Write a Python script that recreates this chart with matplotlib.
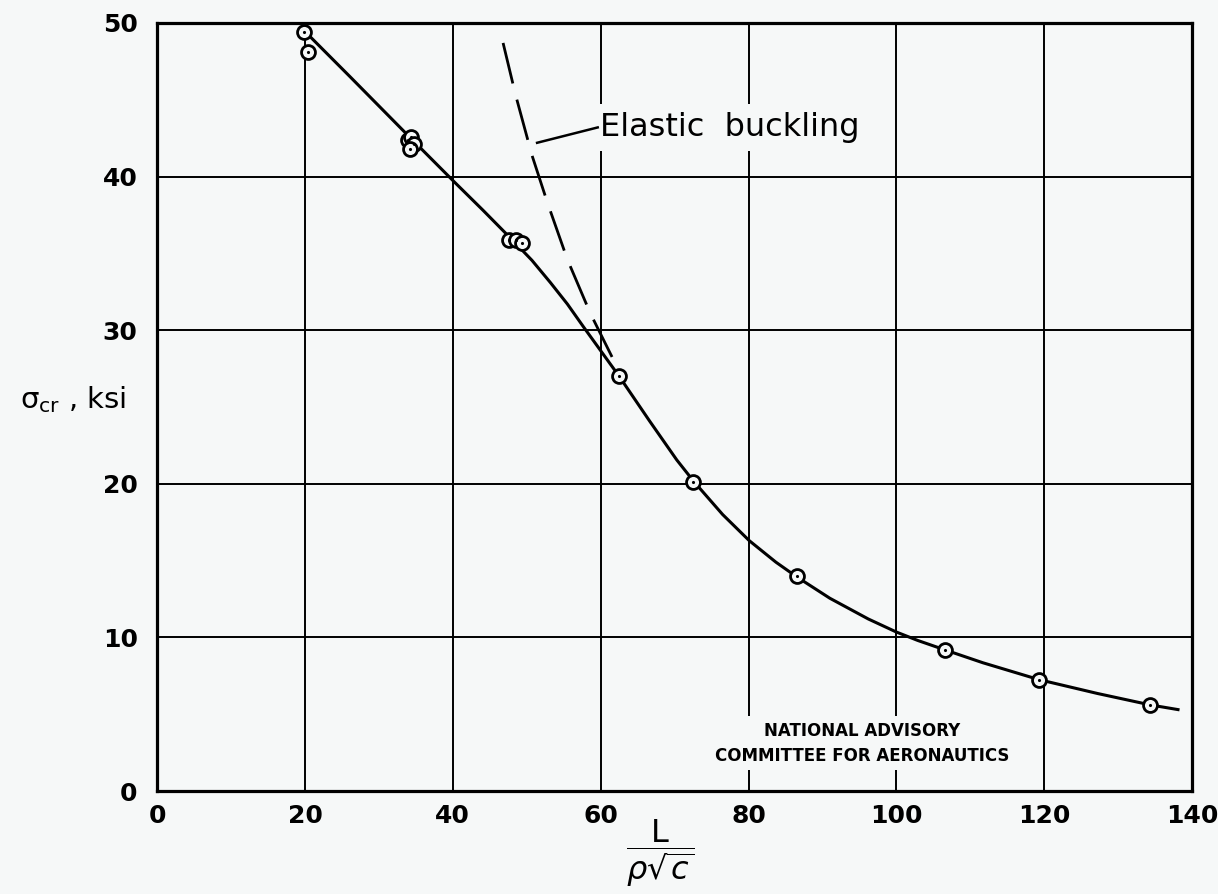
import matplotlib.pyplot as plt

# test points (L / rho sqrt(c), sigma_cr ksi)
x_pts = [19.9, 20.4, 34.0, 34.4, 34.8, 34.2, 47.6, 48.6, 49.4, 62.5, 72.5, 86.5, 106.6, 119.3, 134.3]
y_pts = [49.4, 48.1, 42.4, 42.6, 42.1, 41.8, 35.9, 35.9, 35.7, 27.0, 20.1, 14.0, 9.2, 7.2, 5.6]

# faired curve
curve_x = [20.3, 26.1, 34.2, 40.1, 44.1, 48.2, 50.7, 53.2, 55.5, 57.7, 62.5, 66.6, 70.3, 72.6,
           76.5, 80.1, 83.7, 86.5, 91.0, 96.2, 100.0, 102.9, 106.5, 111.7, 119.3, 127.2, 134.4, 138.1]
curve_y = [49.3, 46.5, 42.55, 39.7, 37.8, 35.8, 34.55, 33.1, 31.7, 30.2, 27.0, 24.1, 21.55, 20.15,
           18.0, 16.3, 14.9, 13.95, 12.55, 11.2, 10.35, 9.8, 9.2, 8.35, 7.25, 6.35, 5.6, 5.3]

# elastic buckling (dashed)
elastic_x = [46.8, 48.5, 50.7, 52.8, 55.5, 58.6, 61.7, 62.6]
elastic_y = [48.7, 45.3, 41.4, 38.3, 34.6, 31.1, 28.1, 27.3]

x_ticks = [0, 20, 40, 60, 80, 100, 120, 140]
y_ticks = [0, 10, 20, 30, 40, 50]

bg = '#f6f8f8'

fig = plt.figure(figsize=(12.18, 8.94), dpi=100, facecolor=bg)
ax = fig.add_axes([0.129, 0.1152, 0.8497, 0.8591], facecolor=bg)

ax.set_xlim(0, 140)
ax.set_ylim(0, 50)
ax.set_xticks(x_ticks)
ax.set_yticks(y_ticks)
ax.set_xticklabels([str(v) for v in x_ticks], fontsize=18, fontweight='bold')
ax.set_yticklabels([str(v) for v in y_ticks], fontsize=18, fontweight='bold')
ax.tick_params(axis='x', length=0, pad=9)
ax.tick_params(axis='y', length=0, pad=14)
ax.grid(True, color='black', linewidth=1.4)
for s in ax.spines.values():
    s.set_linewidth(2.3)

ax.plot(curve_x, curve_y, color='black', linewidth=2.2, zorder=3)
el, = ax.plot(elastic_x, elastic_y, color='black', linewidth=2.0, zorder=3)
el.set_dashes((15, 6))

ax.plot(x_pts, y_pts, 'o', ms=10, mfc=bg, mec='black', mew=2.0, zorder=4)
ax.plot(x_pts, y_pts, '.', ms=2.5, color='black', zorder=5)

# leader + label
ax.plot([51.4, 59.6], [42.2, 43.2], color='black', linewidth=1.8, zorder=3)
ax.text(59.9, 43.2, 'Elastic  buckling', fontsize=23, ha='left', va='center', zorder=2,
        bbox=dict(facecolor=bg, edgecolor='none', pad=6))

ax.text(95.4, 3.1, 'NATIONAL ADVISORY\nCOMMITTEE FOR AERONAUTICS', fontsize=12,
        fontweight='bold', ha='center', va='center', linespacing=1.5, zorder=2,
        bbox=dict(facecolor=bg, edgecolor='none', pad=4))

ax.set_ylabel(r'$\mathregular{\sigma_{cr}}$ , ksi', fontsize=21, rotation=0,
              ha='right', va='center')
ax.yaxis.set_label_coords(-0.03, 0.51)
ax.set_xlabel(r'$\dfrac{\mathrm{L}}{\rho\sqrt{c}}$', fontsize=23, va='center')
ax.xaxis.set_label_coords(0.486, -0.081)

fig.savefig('out.png', dpi=100, facecolor=bg)
